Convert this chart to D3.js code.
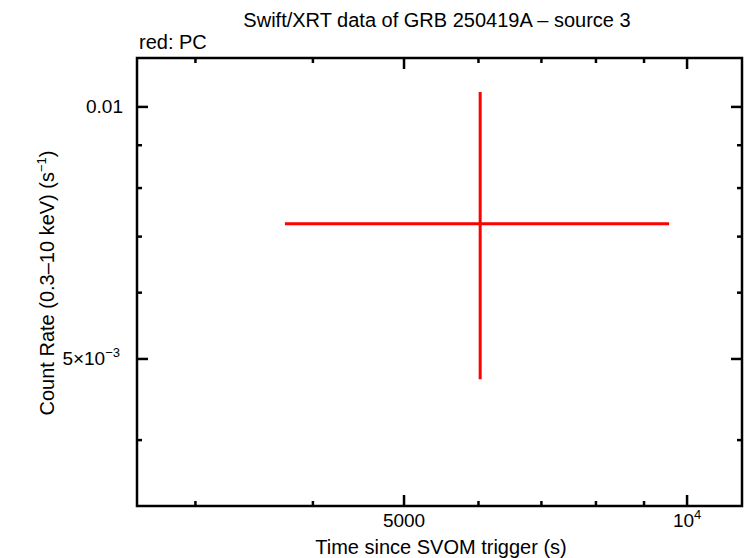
<!DOCTYPE html>
<html>
<head>
<meta charset="utf-8">
<script src="https://cdn.jsdelivr.net/npm/d3@7"></script>
<style>
  body { margin: 0; background: #fff; }
  text { font-family: "Liberation Sans", Arial, sans-serif; fill: #000; }
</style>
</head>
<body>
<div id="chart"></div>
<script>
const width = 746;
const height = 558;
const margin = { top: 58, right: 4, bottom: 52, left: 137 };

// data (PC mode, one bin)
const timeMid = [6025];
const timeLo = [3735];
const timeHi = [9570];
const rate = [0.00725];
const rateLo = [0.00473];
const rateHi = [0.01042];

const xDomain = [2600, 11440];
const yDomain = [0.003337, 0.01144];
const xMajor = [5000, 10000];
const xMinor = [3000, 4000, 6000, 7000, 8000, 9000];
const yMajor = [0.005, 0.01];
const yMinor = [0.004, 0.006, 0.007, 0.008, 0.009];

const svg = d3.select('#chart').append('svg')
    .attr('width', width)
    .attr('height', height);

const x = d3.scaleLog().domain(xDomain).range([margin.left, width - margin.right]);
const y = d3.scaleLog().domain(yDomain).range([height - margin.bottom, margin.top]);

const x0 = margin.left, x1 = width - margin.right;
const y0 = height - margin.bottom, y1 = margin.top;

const sup = (base, exp) => `${base}<tspan dy="-8" font-size="13">${exp}</tspan>`;

// ticks on all four sides
function xticks(vals, len) {
    vals.forEach(v => {
        const px = x(v);
        svg.append('line').attr('x1', px).attr('x2', px).attr('y1', y0).attr('y2', y0 - len)
            .attr('stroke', '#000').attr('stroke-width', 2.5);
        svg.append('line').attr('x1', px).attr('x2', px).attr('y1', y1).attr('y2', y1 + len)
            .attr('stroke', '#000').attr('stroke-width', 2.5);
    });
}
function yticks(vals, len) {
    vals.forEach(v => {
        const py = y(v);
        svg.append('line').attr('x1', x0).attr('x2', x0 + len).attr('y1', py).attr('y2', py)
            .attr('stroke', '#000').attr('stroke-width', 2.5);
        svg.append('line').attr('x1', x1).attr('x2', x1 - len).attr('y1', py).attr('y2', py)
            .attr('stroke', '#000').attr('stroke-width', 2.5);
    });
}
xticks(xMajor, 11);
xticks(xMinor, 5);
yticks(yMajor, 11);
yticks(yMinor, 5);

// data: error bars
const g = svg.append('g');
timeMid.forEach((t, i) => {
    g.append('line')
        .attr('x1', x(timeLo[i])).attr('x2', x(timeHi[i]))
        .attr('y1', y(rate[i])).attr('y2', y(rate[i]))
        .attr('stroke', '#ff0000').attr('stroke-width', 3);
    g.append('line')
        .attr('x1', x(t)).attr('x2', x(t))
        .attr('y1', y(rateLo[i])).attr('y2', y(rateHi[i]))
        .attr('stroke', '#ff0000').attr('stroke-width', 3);
});

// frame
svg.append('rect')
    .attr('x', x0).attr('y', y1)
    .attr('width', x1 - x0).attr('height', y0 - y1)
    .attr('fill', 'none').attr('stroke', '#000').attr('stroke-width', 2.5);

// tick labels
svg.append('text').attr('x', x(5000)).attr('y', y0 + 21)
    .attr('text-anchor', 'middle').attr('font-size', 19).text('5000');
svg.append('text').attr('x', x(10000)).attr('y', y0 + 21)
    .attr('text-anchor', 'middle').attr('font-size', 19).html(sup('10', '4'));

svg.append('text').attr('x', x0 - 14).attr('y', y(0.01) + 6)
    .attr('text-anchor', 'end').attr('font-size', 19).text('0.01');
svg.append('text').attr('x', x0 - 17).attr('y', y(0.005) + 6)
    .attr('text-anchor', 'end').attr('font-size', 19).html(sup('5×10', '−3'));

// titles
svg.append('text').attr('x', 437).attr('y', 27)
    .attr('text-anchor', 'middle').attr('font-size', 20)
    .text('Swift/XRT data of GRB 250419A – source 3');
svg.append('text').attr('x', 139).attr('y', 49)
    .attr('font-size', 20).text('red: PC');
svg.append('text').attr('x', 441).attr('y', 554)
    .attr('text-anchor', 'middle').attr('font-size', 20)
    .text('Time since SVOM trigger (s)');
svg.append('text')
    .attr('transform', 'translate(54, 283) rotate(-90)')
    .attr('text-anchor', 'middle').attr('font-size', 20)
    .html('Count Rate (0.3–10 keV) (s<tspan dy="-8" font-size="13">−1</tspan><tspan dy="8">)</tspan>');
</script>
</body>
</html>
